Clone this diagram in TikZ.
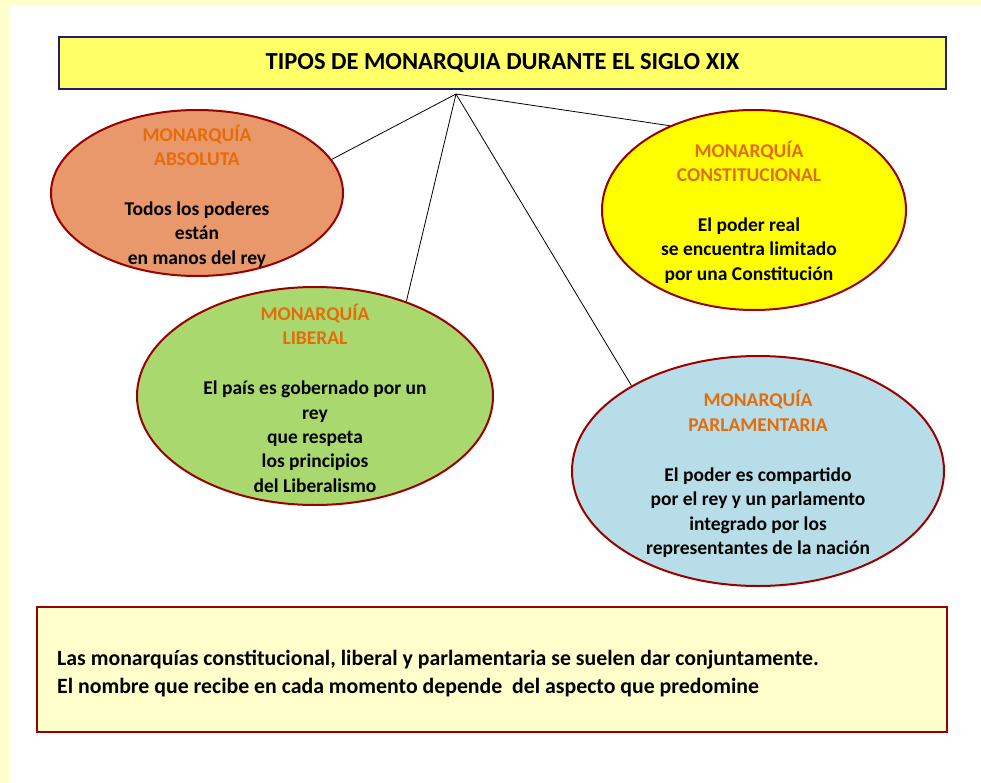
\documentclass[tikz,border=0pt]{standalone}
\usepackage{fontspec}
\setmainfont{Carlito}
\usetikzlibrary{shapes.geometric}
\definecolor{frameY}{HTML}{FFFFCC}
\definecolor{titleY}{HTML}{FFFF66}
\definecolor{navy}{HTML}{1F1F6B}
\definecolor{dred}{HTML}{990000}
\definecolor{orng}{HTML}{E46C0A}
\definecolor{absF}{HTML}{E9986B}
\definecolor{conF}{HTML}{FFFF00}
\definecolor{libF}{HTML}{A9D86E}
\definecolor{parF}{HTML}{B7DDE8}
\definecolor{noteF}{HTML}{FFFFCC}
\tikzset{
  ovalbox/.style={ellipse, draw=dred, line width=2pt, inner sep=0pt},
  ovaltext/.style={align=center, font=\fontsize{19.5}{24.3}\selectfont\bfseries, text=black, inner sep=0pt},
  link/.style={draw=black, line width=0.8pt}
}
\newcommand{\hd}[1]{\textcolor{orng}{#1}}
\begin{document}
\begin{tikzpicture}[x=1pt,y=-1pt]
\useasboundingbox (0,0) rectangle (981,783);
\fill[frameY] (0,0) rectangle (981,783);
\fill[white] (10,6) rectangle (981,783);

% title
\node[draw=navy, line width=1.3pt, fill=titleY, minimum width=887pt, minimum height=52pt, inner sep=0pt,
      font=\fontsize{24.5}{28}\selectfont\bfseries] (title) at (502.5,63) {TIPOS DE MONARQUIA DURANTE EL SIGLO XIX};
\coordinate (hub) at (456,94);

% ellipses
\node[ovalbox, fill=absF, minimum width=292pt, minimum height=166pt] (abs) at (197,193) {};
\node[ovalbox, fill=conF, minimum width=304pt, minimum height=200pt] (con) at (754,210) {};
\node[ovalbox, fill=libF, minimum width=356pt, minimum height=218pt] (lib) at (315,396) {};
\node[ovalbox, fill=parF, minimum width=372pt, minimum height=230pt] (par) at (758,471) {};

% connectors
\draw[link] (hub) -- (abs.14);
\draw[link] (hub) -- (lib.46);
\draw[link] (hub) -- (par.146);
\draw[link] (hub) -- (con.135);

% texts
\node[ovaltext] (abst) at (197,196) {\hd{MONARQUÍA}\\\hd{ABSOLUTA}\\[26pt]Todos los poderes\\están\\en manos del rey};
\node[ovaltext] (cont) at (749,212) {\hd{MONARQUÍA}\\\hd{CONSTITUCIONAL}\\[26pt]El poder real\\se encuentra limitado\\por una Constitución};
\node[ovaltext] (libt) at (315,398) {\hd{MONARQUÍA}\\\hd{LIBERAL}\\[26pt]El país es gobernado por un\\rey\\que respeta\\los principios\\del Liberalismo};
\node[ovaltext] (part) at (758,474) {\hd{MONARQUÍA}\\\hd{PARLAMENTARIA}\\[26pt]El poder es compartido\\por el rey y un parlamento\\integrado por los\\representantes de la nación};

% note
\node[draw=dred, line width=2.5pt, fill=noteF, minimum width=910pt, minimum height=125pt, inner sep=0pt] (note) at (492,669.5) {};
\node[anchor=west, align=left, inner sep=0pt, font=\fontsize{21.8}{28}\selectfont\bfseries] (notet) at (57,674)
  {Las monarquías constitucional, liberal y parlamentaria se suelen dar conjuntamente.\\El nombre que recibe en cada momento depende\ \ del aspecto que predomine};
\end{tikzpicture}
\end{document}
